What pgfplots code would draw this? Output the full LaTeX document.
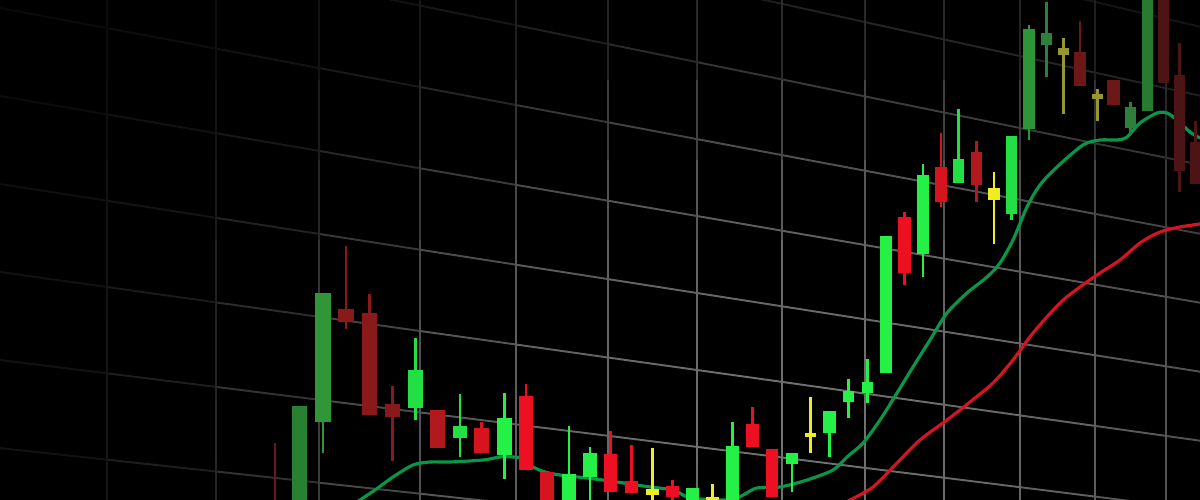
\documentclass[border=0pt]{standalone}
\usepackage{pgfplots}
\pgfplotsset{compat=1.18}

% candle colours
\definecolor{gA}{RGB}{40,128,48}
\definecolor{gB}{RGB}{48,150,56}
\definecolor{gC}{RGB}{45,148,55}
\definecolor{gD}{RGB}{45,128,60}
\definecolor{gE}{RGB}{38,122,50}
\definecolor{gbr}{RGB}{34,224,68}
\definecolor{gbr2}{RGB}{36,240,70}
\definecolor{rA}{RGB}{138,26,26}
\definecolor{rB}{RGB}{178,25,30}
\definecolor{rC}{RGB}{214,20,30}
\definecolor{rD}{RGB}{236,16,34}
\definecolor{rE}{RGB}{108,24,24}
\definecolor{rF}{RGB}{76,20,20}
\definecolor{yA}{RGB}{238,236,34}
\definecolor{yB}{RGB}{150,150,50}
\definecolor{maG}{RGB}{8,150,72}
\definecolor{maR}{RGB}{212,20,32}

% #1 colour, #2 left, #3 right, #4 centre, #5 wick top, #6 body top, #7 body bottom, #8 wick bottom (pixels)
\newcommand{\candle}[8]{%
  \addplot[#1, line width=0.75pt] coordinates {(#4,#5) (#4,#8)};
  \addplot[fill=#1, draw=none] coordinates {(#2,#6) (#3,#6) (#3,#7) (#2,#7)} -- cycle;
}
\newcommand{\gridv}[1]{%
  \addplot[gridline] table[row sep=\\] {x y\\ #1 0\\ #1 80\\ #1 160\\ #1 240\\ #1 320\\ #1 400\\ #1 460\\ #1 500\\};
}

\pgfplotsset{
  colormap={gridcm}{rgb255(0cm)=(118,118,118) rgb255(2.5cm)=(100,100,100) rgb255(4cm)=(80,80,80)
                    rgb255(5cm)=(58,58,58) rgb255(6cm)=(36,36,36) rgb255(7cm)=(21,21,21)
                    rgb255(8.5cm)=(13,13,13) rgb255(10cm)=(9,9,9)},
  gridline/.style={mesh, line width=0.55pt, colormap name=gridcm,
    point meta={sqrt(((\thisrow{x}-800)/100)^2+(1.5*(\thisrow{y}-420)/100)^2)}},
}

\begin{document}
\begin{tikzpicture}
\begin{axis}[width=12cm, height=5cm, scale only axis,
             xmin=0, xmax=1200, ymin=0, ymax=500, y dir=reverse,
             axis lines=none, ticks=none,
             axis background/.style={fill=black},
             point meta min=0, point meta max=10]

% perspective grid, horizontal lines
\addplot[gridline] table[row sep=\\] {x y\\ 865 -52.2\\ 944 -33.6\\ 1020 -15.7\\ 1095 1.9\\ 1166 18.7\\ 1200 26.7\\};
\addplot[gridline] table[row sep=\\] {x y\\ 608 -34.4\\ 697 -14.8\\ 782 3.8\\ 865 22.1\\ 944 39.4\\ 1020 56.1\\ 1095 72.6\\ 1166 88.2\\ 1200 95.7\\};
\addplot[gridline] table[row sep=\\] {x y\\ 216 -36\\ 319 -15\\ 420 5.6\\ 516 25.2\\ 608 44\\ 697 62.1\\ 782 79.4\\ 865 96.4\\ 944 112.5\\ 1020 128\\ 1095 143.3\\ 1166 157.7\\ 1200 164.7\\};
\addplot[gridline] table[row sep=\\] {x y\\ 0 8\\ 107 28.1\\ 216 48.6\\ 319 68\\ 420 87\\ 516 105\\ 608 122.3\\ 697 139.1\\ 782 155.1\\ 865 170.7\\ 944 185.5\\ 1020 199.8\\ 1095 213.9\\ 1166 227.3\\ 1200 233.7\\};
\addplot[gridline] table[row sep=\\] {x y\\ 0 96\\ 107 114.4\\ 216 133.2\\ 319 150.9\\ 420 168.3\\ 516 184.9\\ 608 200.7\\ 697 216\\ 782 230.7\\ 865 245\\ 944 258.6\\ 1020 271.7\\ 1095 284.6\\ 1166 296.8\\ 1200 302.7\\};
\addplot[gridline] table[row sep=\\] {x y\\ 0 184\\ 107 200.7\\ 216 217.8\\ 319 233.9\\ 420 249.7\\ 516 264.7\\ 608 279.1\\ 697 293\\ 782 306.3\\ 865 319.3\\ 944 331.6\\ 1020 343.5\\ 1095 355.2\\ 1166 366.3\\ 1200 371.7\\};
\addplot[gridline] table[row sep=\\] {x y\\ 0 272\\ 107 287\\ 216 302.4\\ 319 316.8\\ 420 331\\ 516 344.5\\ 608 357.5\\ 697 370\\ 782 381.9\\ 865 393.6\\ 944 404.7\\ 1020 415.4\\ 1095 425.9\\ 1166 435.9\\ 1200 440.7\\};
\addplot[gridline] table[row sep=\\] {x y\\ 0 360\\ 107 373.3\\ 216 386.9\\ 319 399.8\\ 420 412.4\\ 516 424.4\\ 608 435.8\\ 697 446.9\\ 782 457.5\\ 865 467.9\\ 944 477.7\\ 1020 487.2\\ 1095 496.6\\ 1166 505.4\\ 1200 509.6\\};
\addplot[gridline] table[row sep=\\] {x y\\ 0 448\\ 107 459.7\\ 216 471.5\\ 319 482.7\\ 420 493.7\\ 516 504.2\\};

% vertical lines
\gridv{107} \gridv{216} \gridv{319} \gridv{420} \gridv{516} \gridv{608} \gridv{697}
\gridv{782} \gridv{865} \gridv{944} \gridv{1020} \gridv{1095} \gridv{1166}

% moving averages
\addplot[maG, line width=0.9pt, smooth, tension=0.5] coordinates {
  (352,505) (360,500) (375,490) (393,477) (413,465) (430,462) (450,462) (483,460)
  (500,457) (513,457) (520,458) (533,467) (545,472) (560,475) (587,478) (617,482)
  (650,487) (673,490) (687,497) (700,499) (720,500) (735,499) (745,494) (757,488)
  (780,487) (807,480) (833,470) (847,457) (863,443) (880,420) (897,393) (913,367)
  (930,340) (947,313) (967,293) (987,277) (1000,263) (1013,240) (1027,207) (1040,185)
  (1057,167) (1083,145) (1100,140) (1117,140) (1127,137) (1140,123) (1157,113)
  (1167,113) (1177,120) (1190,132) (1200,138)};
\addplot[maR, line width=0.9pt, smooth, tension=0.5] coordinates {
  (845,503) (850,500) (873,487) (897,463) (920,440) (947,420) (970,402) (993,383)
  (1013,360) (1033,333) (1060,303) (1080,287) (1100,273) (1120,260) (1140,243)
  (1160,232) (1180,227) (1200,224)};

% candles
\candle{rE}{268}{282}{275}{443}{505}{520}{520}
\candle{gA}{292}{307}{299.5}{406}{406}{520}{520}
\candle{gB}{315}{331}{323}{293}{293}{422}{453}
\candle{rA}{338}{354}{346}{246}{309}{322}{329}
\candle{rA}{362}{377}{369.5}{294}{313}{415}{415}
\candle{rA}{385}{400}{392.5}{386}{404}{417}{461}
\candle{gbr}{408}{423}{415.5}{338}{370}{408}{420}
\candle{rB}{430}{445}{437.5}{410}{410}{448}{448}
\candle{gbr}{453}{467}{460}{394}{426}{438}{457}
\candle{rC}{474}{489}{481.5}{422}{428}{453}{453}
\candle{gbr2}{497}{512}{504.5}{393}{418}{455}{479}
\candle{rD}{519}{533}{526}{384}{396}{470}{470}
\candle{rC}{540}{554}{547}{472}{472}{520}{520}
\candle{gbr2}{562}{576}{569}{426}{474}{520}{520}
\candle{gbr2}{583}{597}{590}{447}{453}{477}{505}
\candle{rD}{604}{617}{610.5}{431}{454}{492}{492}
\candle{rD}{625}{638}{631.5}{445}{481}{493}{493}
\candle{yA}{646}{659}{652.5}{448}{489}{495}{505}
\candle{rD}{666}{679}{672.5}{480}{486}{497}{505}
\candle{gbr2}{686}{699}{692.5}{488}{488}{520}{520}
\candle{yA}{706}{719}{712.5}{484}{497}{520}{520}
\candle{gbr2}{726}{739}{732.5}{422}{446}{520}{520}
\candle{rD}{746}{759}{752.5}{407}{424}{447}{447}
\candle{rD}{766}{778}{772}{449}{449}{497}{497}
\candle{gbr2}{786}{798}{792}{453}{453}{464}{492}
\candle{yA}{805}{816}{810.5}{397}{433}{437}{453}
\candle{gbr2}{823}{836}{829.5}{411}{411}{433}{457}
\candle{gbr2}{843}{854}{848.5}{379}{391}{402}{418}
\candle{gbr2}{862}{873}{867.5}{359}{382}{393}{403}
\candle{gbr2}{880}{892}{886}{236}{236}{373}{373}
\candle{rD}{898}{911}{904.5}{212}{217}{273}{285}
\candle{gbr2}{917}{929}{923}{164}{175}{254}{277}
\candle{rC}{935}{947}{941}{133}{167}{202}{207}
\candle{gbr}{953}{964}{958.5}{109}{159}{183}{183}
\candle{rB}{971}{982}{976.5}{141}{152}{185}{202}
\candle{yA}{988}{1000}{994}{172}{188}{200}{244}
\candle{gbr}{1006}{1017}{1011.5}{136}{136}{214}{220}
\candle{gC}{1023}{1035}{1029}{25}{29}{129}{140}
\candle{gD}{1041}{1052}{1046.5}{2}{33}{45}{77}
\candle{yB}{1058}{1069}{1063.5}{38}{48}{55}{114}
\candle{rE}{1074}{1086}{1080}{21}{52}{86}{86}
\candle{yB}{1092}{1103}{1097.5}{89}{94}{99}{121}
\candle{rE}{1107}{1120}{1113.5}{80}{80}{105}{105}
\candle{gD}{1125}{1136}{1130.5}{102}{107}{128}{134}
\candle{gE}{1142}{1153}{1147.5}{-10}{-10}{111}{111}
\candle{rF}{1158}{1169}{1163.5}{-10}{-10}{83}{83}
\candle{rF}{1174}{1185}{1179.5}{43}{75}{171}{192}
\candle{rF}{1190}{1201}{1195.5}{121}{142}{184}{184}
\end{axis}
\end{tikzpicture}
\end{document}
